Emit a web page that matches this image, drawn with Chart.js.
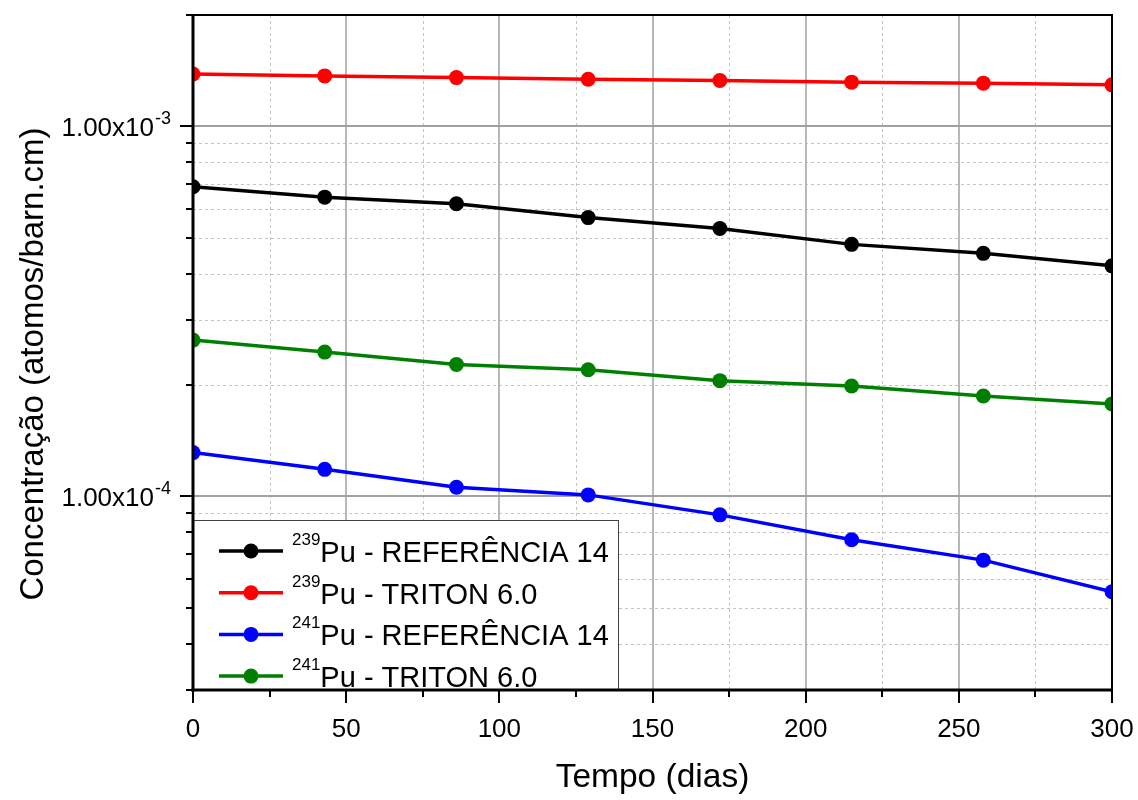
<!DOCTYPE html>
<html>
<head>
<meta charset="utf-8">
<script src="https://cdn.jsdelivr.net/npm/chart.js@4/dist/chart.umd.min.js"></script>
<style>
  body { margin: 0; background: #fff; }
  #wrap { width: 1138px; height: 800px; }
</style>
</head>
<body>
<div id="wrap"><canvas id="chart" width="1138" height="800"></canvas></div>
<script>
// dados
const days = [0, 43, 86, 129, 172, 215, 258, 300];
const pu239Ref    = [6.87e-4, 6.44e-4, 6.18e-4, 5.67e-4, 5.30e-4, 4.80e-4, 4.54e-4, 4.20e-4];
const pu239Triton = [1.386e-3, 1.369e-3, 1.355e-3, 1.341e-3, 1.330e-3, 1.317e-3, 1.309e-3, 1.295e-3];
const pu241Ref    = [1.314e-4, 1.184e-4, 1.059e-4, 1.010e-4, 8.92e-5, 7.64e-5, 6.73e-5, 5.53e-5];
const pu241Triton = [2.646e-4, 2.456e-4, 2.274e-4, 2.201e-4, 2.056e-4, 1.989e-4, 1.869e-4, 1.779e-4];

const isotopes    = ['239', '239', '241', '241'];
const seriesNames = ['Pu - REFERÊNCIA 14', 'Pu - TRITON 6.0', 'Pu - REFERÊNCIA 14', 'Pu - TRITON 6.0'];
const colors      = ['#000000', '#ff0000', '#0000ff', '#008000'];

// eixos
const xMajorTicks = [0, 50, 100, 150, 200, 250, 300];
const xMinorTicks = [25, 75, 125, 175, 225, 275];
const yMajorTicks = [1e-4, 1e-3];
const yMajorExp   = ['-4', '-3'];
const yMinorTicks = [3e-5, 4e-5, 5e-5, 6e-5, 7e-5, 8e-5, 9e-5,
                     2e-4, 3e-4, 4e-4, 5e-4, 6e-4, 7e-4, 8e-4, 9e-4, 2e-3];

const FONT = "'Liberation Sans', Arial, sans-serif";

const line = (ctx, x1, y1, x2, y2) => {
  ctx.beginPath();
  ctx.moveTo(x1, y1);
  ctx.lineTo(x2, y2);
  ctx.stroke();
};

// grade, eixos, rótulos e legenda desenhados à mão (estilo Origin)
const originStyle = {
  id: 'originStyle',
  beforeDatasetsDraw(chart) {
    const { ctx, chartArea: a, scales: { x, y } } = chart;
    ctx.save();
    ctx.lineWidth = 1;
    ctx.strokeStyle = '#c4c4c4';
    ctx.setLineDash([3, 3]);
    xMinorTicks.forEach(v => {
      const px = Math.round(x.getPixelForValue(v)) + 0.5;
      line(ctx, px, a.top, px, a.bottom);
    });
    yMinorTicks.forEach(v => {
      const py = Math.round(y.getPixelForValue(v)) + 0.5;
      line(ctx, a.left, py, a.right, py);
    });
    ctx.setLineDash([]);
    ctx.lineWidth = 2;
    ctx.strokeStyle = '#b8b8b8';
    xMajorTicks.forEach(v => {
      const px = Math.round(x.getPixelForValue(v));
      line(ctx, px, a.top, px, a.bottom);
    });
    ctx.strokeStyle = '#a0a0a0';
    yMajorTicks.forEach(v => {
      const py = Math.round(y.getPixelForValue(v));
      line(ctx, a.left, py, a.right, py);
    });
    ctx.restore();
  },
  afterDatasetsDraw(chart) {
    const { ctx, chartArea: a, scales: { x, y } } = chart;
    ctx.save();

    // legenda
    const lg = { left: a.left, top: 520, right: 618, bottom: a.bottom };
    ctx.fillStyle = '#ffffff';
    ctx.fillRect(lg.left, lg.top, lg.right - lg.left, lg.bottom - lg.top);
    ctx.strokeStyle = '#404040';
    ctx.lineWidth = 1;
    ctx.strokeRect(lg.left + 0.5, lg.top + 0.5, lg.right - lg.left, lg.bottom - lg.top);
    chart.data.datasets.forEach((ds, i) => {
      const cy = 551 + i * 41.7;
      ctx.strokeStyle = ds.borderColor;
      ctx.lineWidth = 3.5;
      line(ctx, 219, cy, 283, cy);
      ctx.fillStyle = ds.borderColor;
      ctx.beginPath();
      ctx.arc(251, cy, 7.5, 0, Math.PI * 2);
      ctx.fill();
      ctx.fillStyle = '#000';
      ctx.textAlign = 'left';
      ctx.textBaseline = 'alphabetic';
      ctx.font = '17px ' + FONT;
      ctx.fillText(isotopes[i], 292, cy - 6);
      const w = ctx.measureText(isotopes[i]).width;
      ctx.font = '29px ' + FONT;
      ctx.fillText(seriesNames[i], 292 + w, cy + 11);
    });

    // moldura
    ctx.strokeStyle = '#000';
    ctx.lineWidth = 2;
    ctx.strokeRect(a.left, a.top, a.right - a.left, a.bottom - a.top);
    ctx.lineWidth = 3;
    line(ctx, a.left, a.top - 1, a.left, a.bottom + 1.5);
    line(ctx, a.left - 1.5, a.bottom, a.right + 1, a.bottom);

    // marcas do eixo x
    ctx.lineWidth = 2;
    xMajorTicks.forEach(v => {
      const px = Math.round(x.getPixelForValue(v));
      line(ctx, px, a.bottom, px, a.bottom + 13);
    });
    xMinorTicks.forEach(v => {
      const px = Math.round(x.getPixelForValue(v));
      line(ctx, px, a.bottom, px, a.bottom + 7);
    });
    // marcas do eixo y
    yMajorTicks.forEach(v => {
      const py = Math.round(y.getPixelForValue(v));
      line(ctx, a.left - 13, py, a.left, py);
    });
    yMinorTicks.forEach(v => {
      const py = Math.round(y.getPixelForValue(v));
      line(ctx, a.left - 7, py, a.left, py);
    });

    // rótulos x
    ctx.fillStyle = '#000';
    ctx.font = '26px ' + FONT;
    ctx.textAlign = 'center';
    ctx.textBaseline = 'alphabetic';
    xMajorTicks.forEach(v => {
      ctx.fillText(String(v), x.getPixelForValue(v), a.bottom + 47);
    });

    // rótulos y: 1.00x10^n
    yMajorTicks.forEach((v, i) => {
      const py = y.getPixelForValue(v);
      ctx.textAlign = 'right';
      ctx.font = '18px ' + FONT;
      const ew = ctx.measureText(yMajorExp[i]).width;
      ctx.fillText(yMajorExp[i], 171, py - 2);
      ctx.font = '26px ' + FONT;
      ctx.fillText('1.00x10', 171 - ew - 1, py + 10);
    });

    // títulos dos eixos
    ctx.font = '33.5px ' + FONT;
    ctx.textAlign = 'center';
    ctx.fillText('Tempo (dias)', (a.left + a.right) / 2, 787);
    ctx.font = '33px ' + FONT;
    ctx.translate(43, 364);
    ctx.rotate(-Math.PI / 2);
    ctx.fillText('Concentração (atomos/barn.cm)', 0, 0);
    ctx.restore();
  }
};

const mkDataset = (label, data, color) => ({
  label: label,
  data: data,
  borderColor: color,
  backgroundColor: color,
  borderWidth: 3.5,
  pointRadius: 7.5,
  pointHoverRadius: 7.5,
  pointBorderWidth: 0,
  pointBackgroundColor: color,
  tension: 0,
  clip: 0
});

new Chart(document.getElementById('chart'), {
  type: 'line',
  data: {
    labels: days,
    datasets: [
      mkDataset('239Pu - REFERÊNCIA 14', pu239Ref, colors[0]),
      mkDataset('239Pu - TRITON 6.0', pu239Triton, colors[1]),
      mkDataset('241Pu - REFERÊNCIA 14', pu241Ref, colors[2]),
      mkDataset('241Pu - TRITON 6.0', pu241Triton, colors[3])
    ]
  },
  options: {
    responsive: false,
    animation: false,
    layout: { padding: { left: 193, right: 26, top: 15, bottom: 110 } },
    plugins: {
      legend: { display: false },
      tooltip: { enabled: false }
    },
    scales: {
      x: { type: 'linear', min: 0, max: 300, display: false },
      y: { type: 'logarithmic', min: 3e-5, max: 2e-3, display: false }
    }
  },
  plugins: [originStyle]
});
</script>
</body>
</html>
